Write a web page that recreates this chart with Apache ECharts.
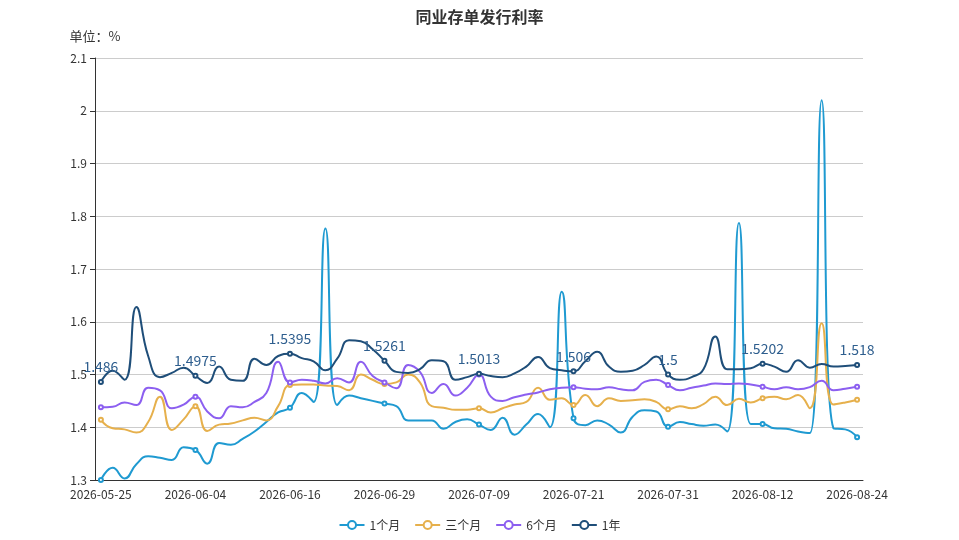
<!DOCTYPE html>
<html>
<head>
<meta charset="utf-8">
<script src="https://cdn.jsdelivr.net/npm/echarts@6/dist/echarts.min.js"></script>
<style>
  html, body { margin: 0; padding: 0; background: #fff; }
  #main { width: 959px; height: 540px; }
</style>
</head>
<body>
<div id="main"></div>
<script>
// 日期（工作日）
var dates = [
  '2026-05-25','2026-05-26','2026-05-27','2026-05-28','2026-05-29','2026-06-01','2026-06-02','2026-06-03','2026-06-04',
  '2026-06-05','2026-06-08','2026-06-09','2026-06-10','2026-06-11','2026-06-12','2026-06-15','2026-06-16',
  '2026-06-17','2026-06-18','2026-06-22','2026-06-23','2026-06-24','2026-06-25','2026-06-26','2026-06-29',
  '2026-06-30','2026-07-01','2026-07-02','2026-07-03','2026-07-06','2026-07-07','2026-07-08','2026-07-09',
  '2026-07-10','2026-07-13','2026-07-14','2026-07-15','2026-07-16','2026-07-17','2026-07-20','2026-07-21',
  '2026-07-22','2026-07-23','2026-07-24','2026-07-27','2026-07-28','2026-07-29','2026-07-30','2026-07-31',
  '2026-08-03','2026-08-04','2026-08-05','2026-08-06','2026-08-07','2026-08-10','2026-08-11','2026-08-12',
  '2026-08-13','2026-08-14','2026-08-17','2026-08-18','2026-08-19','2026-08-20','2026-08-21','2026-08-24'
];

var m1 = [
  1.300, 1.323, 1.303, 1.330, 1.345, 1.342, 1.338, 1.362, 1.357,
  1.331, 1.370, 1.367, 1.378, 1.392, 1.410, 1.428, 1.437,
  1.465, 1.448, 1.777, 1.442, 1.460, 1.455, 1.450, 1.445,
  1.440, 1.413, 1.413, 1.413, 1.397, 1.410, 1.415, 1.405,
  1.395, 1.418, 1.386, 1.405, 1.425, 1.400, 1.657, 1.417,
  1.404, 1.413, 1.405, 1.390, 1.420, 1.432, 1.430, 1.401,
  1.410, 1.406, 1.403, 1.405, 1.392, 1.787, 1.406, 1.406,
  1.398, 1.397, 1.392, 1.389, 2.020, 1.398, 1.396, 1.381
];

var m3 = [
  1.414, 1.398, 1.396, 1.390, 1.410, 1.458, 1.395, 1.415, 1.440,
  1.393, 1.405, 1.407, 1.413, 1.418, 1.413, 1.440, 1.480,
  1.481, 1.481, 1.479, 1.478, 1.470, 1.500, 1.490, 1.482,
  1.485, 1.500, 1.485, 1.440, 1.437, 1.433, 1.433, 1.436,
  1.428, 1.436, 1.443, 1.448, 1.475, 1.452, 1.455, 1.442,
  1.461, 1.440, 1.455, 1.450, 1.451, 1.453, 1.448, 1.434,
  1.440, 1.436, 1.444, 1.458, 1.442, 1.454, 1.447, 1.455,
  1.458, 1.453, 1.461, 1.436, 1.597, 1.443, 1.447, 1.452
];

var m6 = [
  1.438, 1.439, 1.447, 1.442, 1.475, 1.470, 1.436, 1.443, 1.458,
  1.430, 1.417, 1.440, 1.438, 1.448, 1.465, 1.524, 1.485,
  1.490, 1.488, 1.483, 1.493, 1.485, 1.524, 1.497, 1.485,
  1.474, 1.518, 1.505, 1.465, 1.482, 1.460, 1.475, 1.500,
  1.458, 1.450, 1.457, 1.462, 1.466, 1.472, 1.475, 1.476,
  1.473, 1.472, 1.476, 1.472, 1.470, 1.486, 1.490, 1.480,
  1.470, 1.475, 1.479, 1.483, 1.482, 1.483, 1.481, 1.477,
  1.472, 1.476, 1.472, 1.476, 1.488, 1.470, 1.473, 1.477
];

var y1 = [
  1.486, 1.507, 1.490, 1.628, 1.535, 1.495, 1.503, 1.513, 1.4975,
  1.484, 1.515, 1.490, 1.488, 1.530, 1.518, 1.535, 1.5395,
  1.531, 1.525, 1.508, 1.530, 1.565, 1.563, 1.548, 1.5261,
  1.505, 1.503, 1.510, 1.527, 1.525, 1.490, 1.495, 1.5013,
  1.497, 1.495, 1.502, 1.515, 1.533, 1.512, 1.508, 1.506,
  1.525, 1.543, 1.515, 1.505, 1.507, 1.518, 1.534, 1.5,
  1.490, 1.495, 1.510, 1.572, 1.510, 1.510, 1.512, 1.5202,
  1.515, 1.505, 1.527, 1.513, 1.520, 1.515, 1.516, 1.518
];

var names = ['1个月', '三个月', '6个月', '1年'];
var colors = ['#1f9ad1', '#e6b04c', '#8c5ff0', '#1f4e79'];

var chart = echarts.init(document.getElementById('main'));

function lineSeries(name, data, showLabel) {
  return {
    name: name,
    type: 'line',
    smooth: true,
    symbol: 'emptyCircle',
    symbolSize: 4,
    showAllSymbol: false,
    lineStyle: { width: 2 },
    label: {
      show: showLabel,
      position: 'top',
      fontSize: 14,
      color: '#2e5e8e'
    },
    data: data
  };
}

var option = {
  color: colors,
  textStyle: { fontFamily: '"Noto Sans CJK SC", "Noto Sans", sans-serif' },
  title: {
    text: '同业存单发行利率',
    left: 'center',
    top: 4,
    textStyle: { fontSize: 16, fontWeight: 'bold', color: '#333' }
  },
  legend: {
    data: names,
    bottom: 4,
    itemGap: 14,
    itemHeight: 10,
    textStyle: { fontSize: 12, color: '#333' }
  },
  grid: { left: 95, right: 96, top: 58, bottom: 60 },
  xAxis: {
    type: 'category',
    data: dates,
    axisLine: { lineStyle: { color: '#333' } },
    axisLabel: { color: '#333', fontSize: 12, interval: 7 },
    axisTick: { interval: 7 }
  },
  yAxis: {
    type: 'value',
    name: '单位：%',
    nameTextStyle: { color: '#333', fontSize: 13 },
    min: 1.3,
    max: 2.1,
    interval: 0.1,
    axisLine: { show: true, lineStyle: { color: '#333' } },
    axisTick: { show: true },
    axisLabel: { color: '#333', fontSize: 12 },
    splitLine: { lineStyle: { color: '#ccc' } }
  },
  series: [
    lineSeries(names[0], m1, false),
    lineSeries(names[1], m3, false),
    lineSeries(names[2], m6, false),
    lineSeries(names[3], y1, true)
  ]
};

chart.setOption(option);
</script>
</body>
</html>
